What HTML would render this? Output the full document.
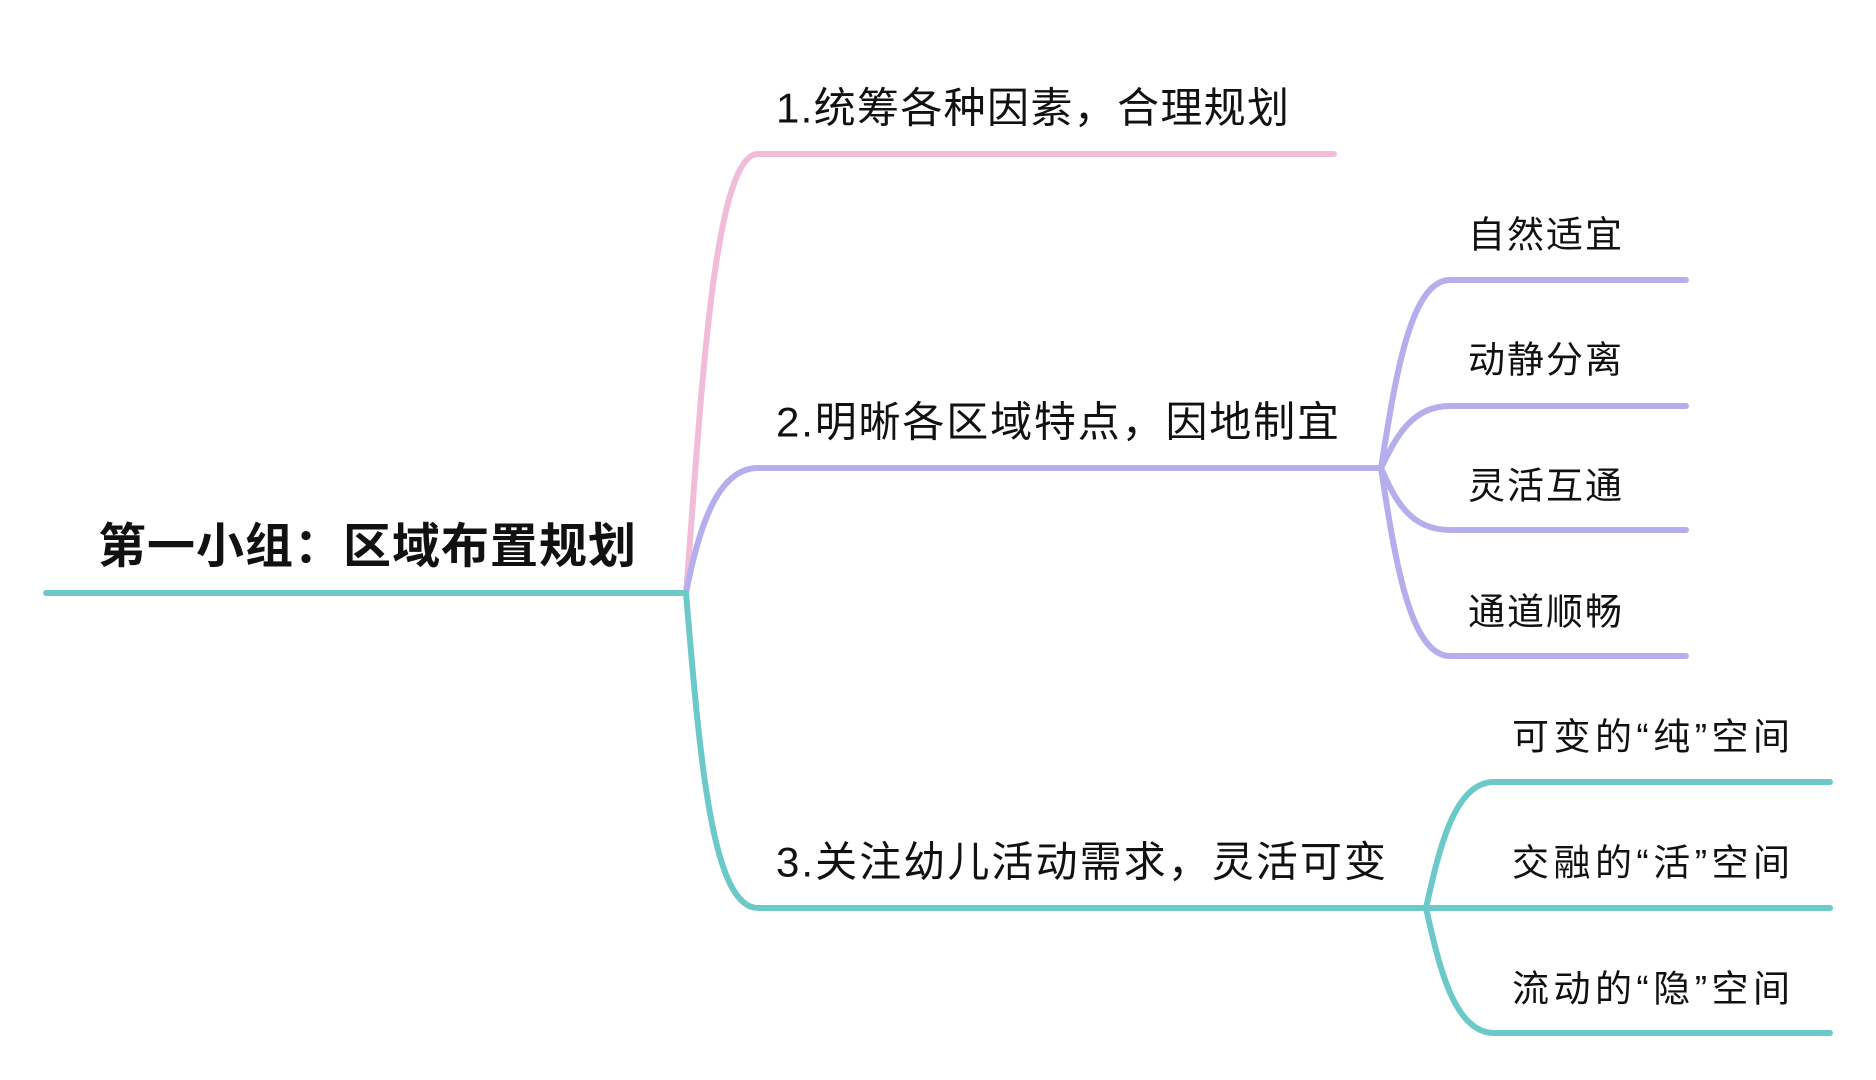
<!DOCTYPE html>
<html><head><meta charset="utf-8"><style>
html,body{margin:0;padding:0;background:#fff;width:1876px;height:1080px;overflow:hidden}
svg{display:block}
text{font-family:"Liberation Sans","Noto Sans CJK SC",sans-serif;fill:#111;dominant-baseline:central}
</style></head><body>
<svg width="1876" height="1080" viewBox="0 0 1876 1080">
<g fill="none" stroke-width="6" stroke-linecap="round">
<path d="M46 593 L686 593" stroke="#6cc9c9"/>
<path d="M686 593 C700 420 712 154 758 154 L1334 154" stroke="#f0bcd9"/>
<path d="M686 593 C700 520 720 468 758 468 L1381 468" stroke="#b4aeec"/>
<path d="M686 593 C700 760 712 908 758 908 L1426 908" stroke="#6cc9c9"/>
<path d="M1381 468 C1395 380 1410 280 1450 280 L1686 280" stroke="#b4aeec"/>
<path d="M1381 468 C1395 440 1410 406 1450 406 L1686 406" stroke="#b4aeec"/>
<path d="M1381 468 C1395 500 1410 530 1450 530 L1686 530" stroke="#b4aeec"/>
<path d="M1381 468 C1395 560 1410 656 1450 656 L1686 656" stroke="#b4aeec"/>
<path d="M1426 908 C1439 850 1454 782 1494 782 L1830 782" stroke="#6cc9c9"/>
<path d="M1426 908 L1830 908" stroke="#6cc9c9"/>
<path d="M1426 908 C1439 966 1454 1033 1494 1033 L1830 1033" stroke="#6cc9c9"/>
</g>
<text x="98" y="547" font-size="48" font-weight="bold" textLength="538">第一小组：区域布置规划</text>
<text x="776" y="108" font-size="42" textLength="513">1.统筹各种因素，合理规划</text>
<text x="776" y="422" font-size="42" textLength="563">2.明晰各区域特点，因地制宜</text>
<text x="776" y="862" font-size="42" textLength="610">3.关注幼儿活动需求，灵活可变</text>
<text x="1468" y="235" font-size="37" textLength="154">自然适宜</text>
<text x="1468" y="360" font-size="37" textLength="154">动静分离</text>
<text x="1468" y="486" font-size="37" textLength="154">灵活互通</text>
<text x="1468" y="612" font-size="37" textLength="154">通道顺畅</text>
<text x="1512" y="737" font-size="37" textLength="278">可变的“纯”空间</text>
<text x="1512" y="863" font-size="37" textLength="278">交融的“活”空间</text>
<text x="1512" y="989" font-size="37" textLength="278">流动的“隐”空间</text>
</svg>
</body></html>
